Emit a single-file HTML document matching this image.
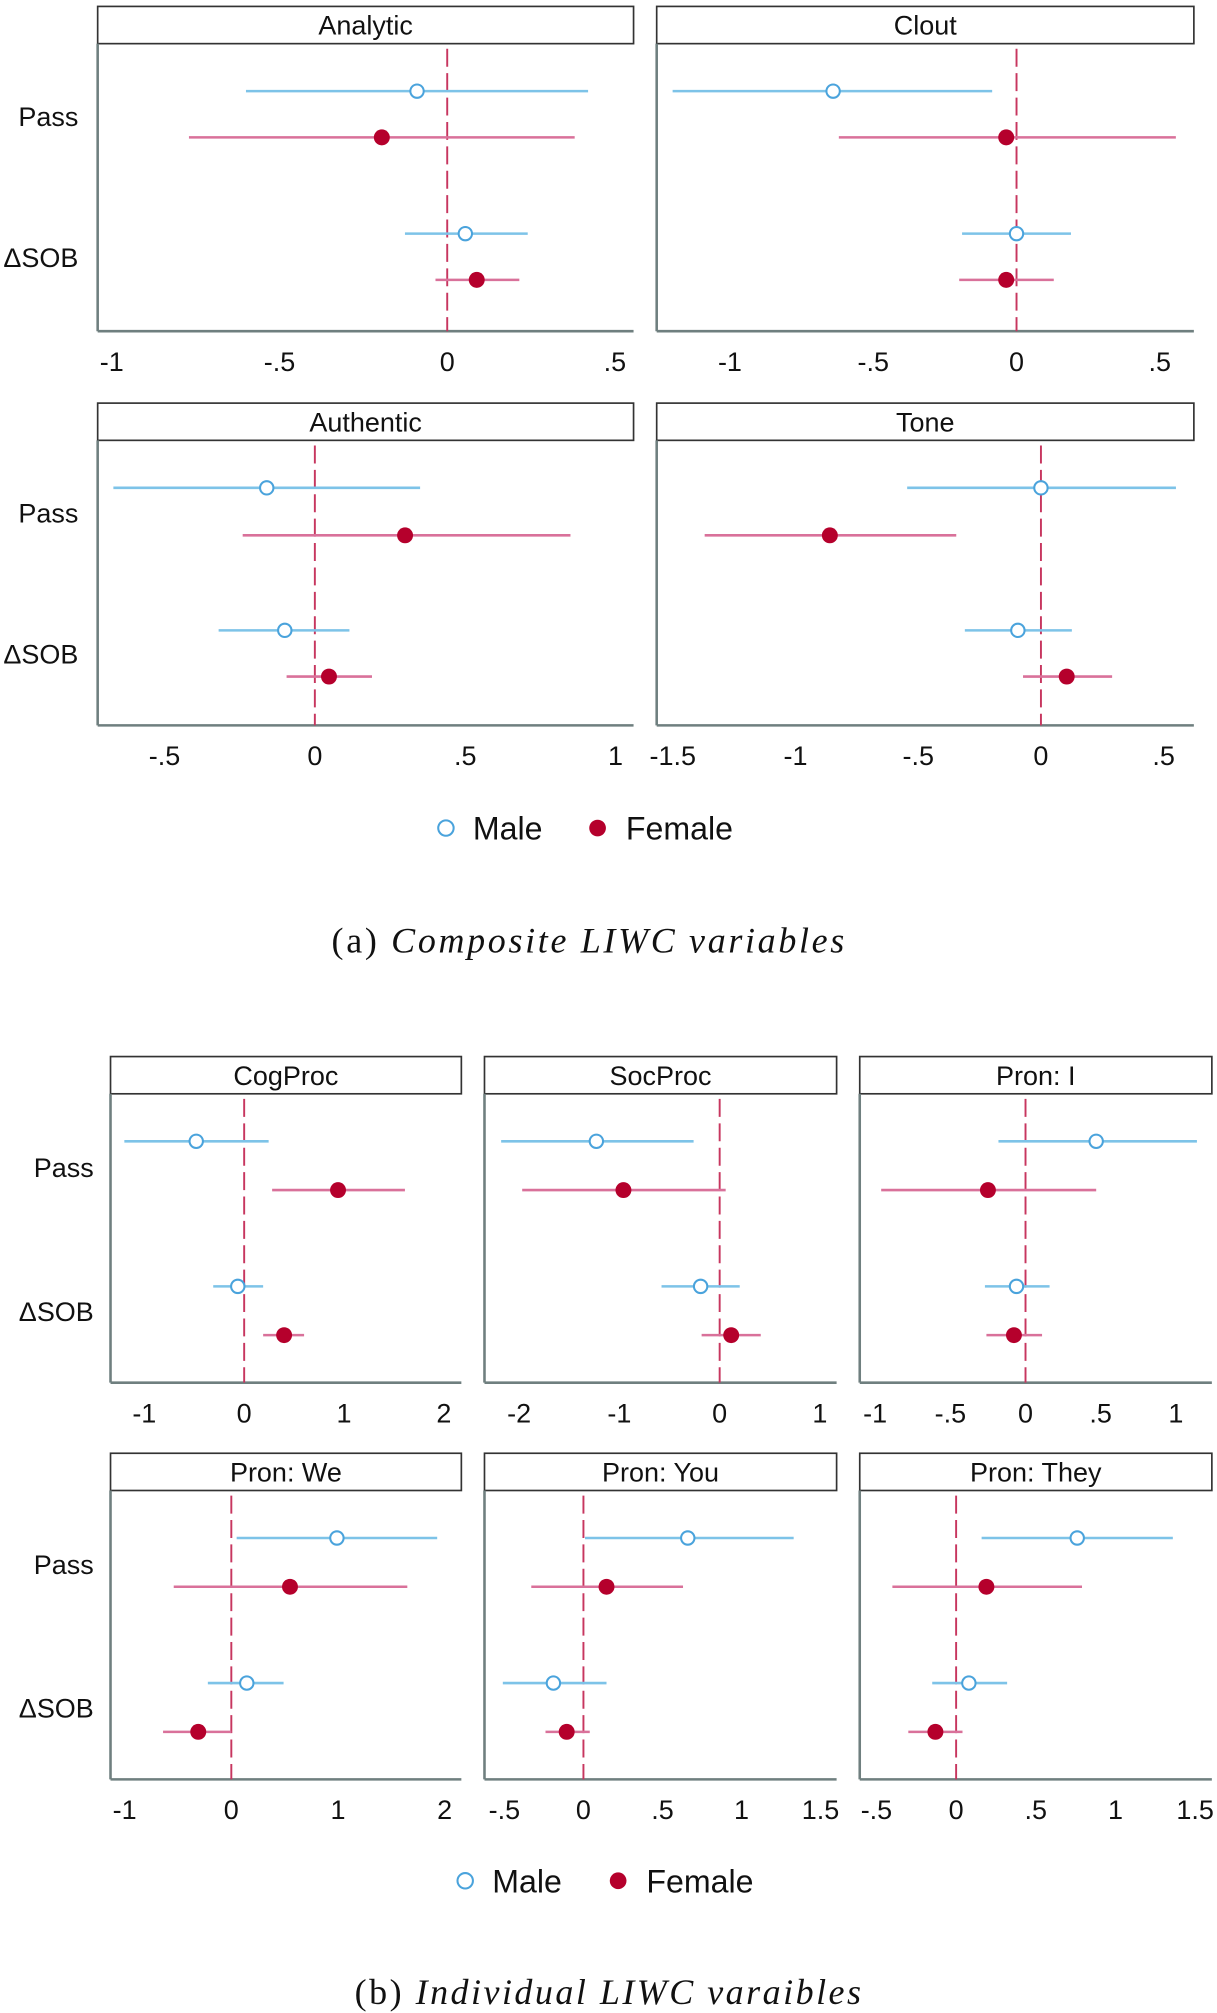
<!DOCTYPE html>
<html><head><meta charset="utf-8">
<style>
html,body{margin:0;padding:0;background:#fff;}
svg{display:block;}
text{font-family:"Liberation Sans",sans-serif;fill:#111;}
.cap{font-family:"Liberation Serif",serif;}
</style></head>
<body>
<svg id="chart" width="1217" height="2013" viewBox="0 0 947 1568" preserveAspectRatio="none" xmlns="http://www.w3.org/2000/svg"></svg>
<script>
// [point, low, high] per row: Pass, ΔSOB
const rowLabels = ["Pass", "\u0394SOB"];
const analyticMale = [[-0.09,-0.60,0.42],[0.054,-0.126,0.24]];
const analyticFemale = [[-0.195,-0.77,0.38],[0.088,-0.035,0.215]];
const cloutMale = [[-0.64,-1.2,-0.085],[0,-0.19,0.19]];
const cloutFemale = [[-0.036,-0.62,0.556],[-0.036,-0.2,0.13]];
const authenticMale = [[-0.16,-0.67,0.35],[-0.10,-0.32,0.115]];
const authenticFemale = [[0.30,-0.24,0.85],[0.047,-0.094,0.19]];
const toneMale = [[0,-0.545,0.55],[-0.094,-0.31,0.126]];
const toneFemale = [[-0.86,-1.37,-0.345],[0.105,-0.073,0.29]];
const cogMale = [[-0.48,-1.2,0.245],[-0.064,-0.31,0.19]];
const cogFemale = [[0.94,0.28,1.61],[0.40,0.19,0.60]];
const socMale = [[-1.23,-2.18,-0.26],[-0.19,-0.58,0.20]];
const socFemale = [[-0.96,-1.97,0.06],[0.115,-0.18,0.41]];
const iMale = [[0.47,-0.18,1.14],[-0.06,-0.27,0.16]];
const iFemale = [[-0.25,-0.96,0.47],[-0.077,-0.26,0.11]];
const weMale = [[0.99,0.05,1.93],[0.145,-0.22,0.49]];
const weFemale = [[0.55,-0.54,1.65],[-0.31,-0.64,0]];
const youMale = [[0.66,0.01,1.33],[-0.19,-0.51,0.146]];
const youFemale = [[0.146,-0.33,0.63],[-0.106,-0.24,0.04]];
const theyMale = [[0.76,0.16,1.36],[0.08,-0.15,0.32]];
const theyFemale = [[0.19,-0.40,0.79],[-0.13,-0.30,0.04]];
const ticksAnalytic = [-1,-0.5,0,0.5];
const ticksClout = [-1,-0.5,0,0.5];
const ticksAuthentic = [-0.5,0,0.5,1];
const ticksTone = [-1.5,-1,-0.5,0,0.5];
const ticksCog = [-1,0,1,2];
const ticksSoc = [-2,-1,0,1];
const ticksI = [-1,-0.5,0,0.5,1];
const ticksWe = [-1,0,1,2];
const ticksYou = [-0.5,0,0.5,1,1.5];
const ticksThey = [-0.5,0,0.5,1,1.5];

const NS = "http://www.w3.org/2000/svg";
const svg = document.getElementById("chart");
function el(tag, attrs, parent, txt){
  const e = document.createElementNS(NS, tag);
  for (const k in attrs) e.setAttribute(k, attrs[k]);
  if (txt !== undefined) e.textContent = txt;
  (parent||svg).appendChild(e);
  return e;
}
function fmt(v){
  if (v === 0) return "0";
  let s = String(Math.abs(v));
  if (s.startsWith("0.")) s = s.slice(1);
  return (v < 0 ? "-" : "") + s;
}
function panel(title, box, male, female, ticks, slug){
  const g = el("g", {}, svg);
  
  
  const hdr = el("rect", {x:box.x0, y:box.ht, width:box.x1-box.x0, height:box.pt-box.ht, fill:"#fff", stroke:"#333", "stroke-width":1.3}, g);
  
  
  const t = el("text", {x:(box.x0+box.x1)/2, y:box.ht+22, "text-anchor":"middle", "font-size":21}, g, title);
  
  
  const xs = v => box.z + v*box.u;
  el("line", {x1:box.x0, y1:box.pt, x2:box.x0, y2:box.pb, stroke:"#6f7f7f", "stroke-width":2}, g);
  const ax = el("line", {x1:box.x0, y1:box.pb, x2:box.x1, y2:box.pb, stroke:"#6f7f7f", "stroke-width":2}, g);
  
  
  const ref = el("line", {x1:xs(0), y1:box.pt+4, x2:xs(0), y2:box.pb, stroke:"#c7365f", "stroke-width":1.5, "stroke-dasharray":"14,5"}, g);
  
  
  ticks.forEach(v => {
    const tl = el("text", {x:xs(v), y:box.pb+31, "text-anchor":"middle", "font-size":21}, g, fmt(v));
    
    
  });
  for (let r = 0; r < 2; r++){
    const ym = box.rows[r*2], yf = box.rows[r*2+1];
    const m = male[r], f = female[r];
    const ml = el("line", {x1:xs(m[1]), y1:ym, x2:xs(m[2]), y2:ym, stroke:"#7dc3e8", "stroke-width":2}, g);
    
    
    const mc = el("circle", {cx:xs(m[0]), cy:ym, r:5.2, fill:"#fff", stroke:"#4aa3dc", "stroke-width":1.6}, g);
    
    
    const fl = el("line", {x1:xs(f[1]), y1:yf, x2:xs(f[2]), y2:yf, stroke:"#d9719a", "stroke-width":2}, g);
    
    
    const fc = el("circle", {cx:xs(f[0]), cy:yf, r:6.2, fill:"#b5002c"}, g);
    
    
  }
  return g;
}
function rowLabs(x, ys){
  rowLabels.forEach((lab, i) => {
    const t = el("text", {x:x, y:ys[i], "text-anchor":"end", "font-size":21}, svg, lab);
    
    
  });
}
function legend(y, xm, xf){
  const g = el("g", {}, svg);
  
  
  el("circle", {cx:xm, cy:y, r:6, fill:"#fff", stroke:"#4aa3dc", "stroke-width":1.6}, g);
  const a = el("text", {x:xm+21, y:y+9, "font-size":25}, g, "Male");
  
  
  el("circle", {cx:xf, cy:y, r:6.5, fill:"#b5002c"}, g);
  const b = el("text", {x:xf+22, y:y+9, "font-size":25}, g, "Female");
  
  
}
function caption(y, label, body, slug, x0, w){
  const t = el("text", {x:x0, y:y, "font-size":28, class:"cap", textLength:w, lengthAdjust:"spacing"}, svg);
  
  
  el("tspan", {}, t, label + " ");
  el("tspan", {"font-style":"italic"}, t, body);
}

const rA1 = [71,107,182,218], rA2 = [380,417,491,527];
panel("Analytic", {x0:76,x1:493,ht:5,pt:34,pb:258,z:348,u:261,rows:rA1}, analyticMale, analyticFemale, ticksAnalytic, "analytic");
panel("Clout", {x0:511,x1:929,ht:5,pt:34,pb:258,z:791,u:223,rows:rA1}, cloutMale, cloutFemale, ticksClout, "clout");
panel("Authentic", {x0:76,x1:493,ht:314,pt:343,pb:565,z:245,u:234,rows:rA2}, authenticMale, authenticFemale, ticksAuthentic, "authentic");
panel("Tone", {x0:511,x1:929,ht:314,pt:343,pb:565,z:810,u:191,rows:rA2}, toneMale, toneFemale, ticksTone, "tone");
rowLabs(61, [98,208]);
rowLabs(61, [407,517]);
legend(645, 347, 465);
caption(742, "(a)", "Composite LIWC variables", "caption-a", 258, 399);

const rB1 = [889,927,1002,1040], rB2 = [1198,1236,1311,1349];
panel("CogProc", {x0:86,x1:359,ht:823,pt:852,pb:1077,z:190,u:77.7,rows:rB1}, cogMale, cogFemale, ticksCog, "cogproc");
panel("SocProc", {x0:377,x1:651,ht:823,pt:852,pb:1077,z:560,u:78,rows:rB1}, socMale, socFemale, ticksSoc, "socproc");
panel("Pron: I", {x0:669,x1:943,ht:823,pt:852,pb:1077,z:798,u:117,rows:rB1}, iMale, iFemale, ticksI, "pron-i");
panel("Pron: We", {x0:86,x1:359,ht:1132,pt:1161,pb:1386,z:180,u:83,rows:rB2}, weMale, weFemale, ticksWe, "pron-we");
panel("Pron: You", {x0:377,x1:651,ht:1132,pt:1161,pb:1386,z:454,u:123,rows:rB2}, youMale, youFemale, ticksYou, "pron-you");
panel("Pron: They", {x0:669,x1:943,ht:1132,pt:1161,pb:1386,z:744,u:124,rows:rB2}, theyMale, theyFemale, ticksThey, "pron-they");
rowLabs(73, [917,1029]);
rowLabs(73, [1226,1338]);
legend(1465, 362, 481);
caption(1561, "(b)", "Individual LIWC varaibles", "caption-b", 276, 394);
</script>
</body></html>
